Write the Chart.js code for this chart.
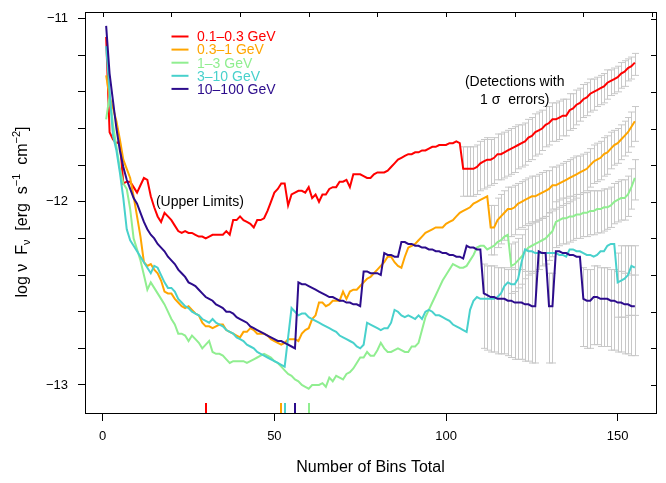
<!DOCTYPE html>
<html>
<head>
<meta charset="utf-8">
<script src="https://cdn.jsdelivr.net/npm/chart.js@4.4.0/dist/chart.umd.min.js"></script>
<style>
  html, body { margin: 0; padding: 0; background: #fff; }
  canvas { display: block; }
</style>
</head>
<body>
<canvas id="chart1" width="666" height="483"></canvas>
<script>
"use strict";

// bin number on the x axis (1 .. 155)
var bins = Array.from({ length: 155 }, function (_, i) { return i + 1; });

var bandNames = ['0.1\u20130.3 GeV', '0.3\u20131 GeV', '1\u20133 GeV', '3\u201310 GeV', '10\u2013100 GeV'];
var bandColors = ['#ff0000', '#ffa500', '#90ee90', '#48d1cc', '#2c0c8c'];

// log nu F_nu per bin, one value for every bin
var redFlux = [
  -11.10, -11.62, -11.66, -11.68, -11.67, -11.90, -11.89, -11.89, -11.92, -11.95,
  -11.91, -11.87, -11.88, -11.97, -12.03, -12.08, -12.11, -12.06, -12.08, -12.10,
  -12.13, -12.16, -12.17, -12.16, -12.17, -12.17, -12.18, -12.19, -12.19, -12.20,
  -12.19, -12.18, -12.18, -12.18, -12.18, -12.16, -12.18, -12.10, -12.10, -12.08,
  -12.10, -12.11, -12.12, -12.14, -12.10, -12.10, -12.09, -12.05, -12.00, -11.95,
  -11.93, -11.90, -11.90, -12.02, -11.96, -11.95, -11.94, -11.94, -11.95, -11.92,
  -11.98, -11.96, -12.00, -11.96, -11.96, -11.93, -11.92, -11.92, -11.89, -11.89,
  -11.88, -11.92, -11.85, -11.85, -11.85, -11.86, -11.87, -11.87, -11.85, -11.84,
  -11.84, -11.84, -11.83, -11.81, -11.79, -11.77, -11.76, -11.75, -11.74, -11.74,
  -11.73, -11.73, -11.72, -11.72, -11.71, -11.70, -11.70, -11.69, -11.69, -11.69,
  -11.68, -11.68, -11.67, -11.68, -11.82, -11.82, -11.82, -11.82, -11.81, -11.79,
  -11.78, -11.77, -11.77, -11.76, -11.74, -11.74, -11.73, -11.72, -11.71, -11.70,
  -11.69, -11.68, -11.67, -11.65, -11.64, -11.62, -11.61, -11.60, -11.58, -11.57,
  -11.55, -11.55, -11.54, -11.53, -11.53, -11.50, -11.49, -11.47, -11.46, -11.44,
  -11.43, -11.41, -11.40, -11.39, -11.38, -11.37, -11.35, -11.34, -11.33, -11.32,
  -11.30, -11.29, -11.27, -11.26, -11.24
];
var orangeFlux = [
  -11.31, -11.43, -11.49, -11.56, -11.66, -11.77, -11.82, -11.87, -11.97, -12.08,
  -12.19, -12.33, -12.35, -12.34, -12.37, -12.39, -12.43, -12.49, -12.50, -12.50,
  -12.53, -12.55, -12.57, -12.58, -12.57, -12.59, -12.61, -12.62, -12.66, -12.68,
  -12.68, -12.69, -12.68, -12.67, -12.67, -12.70, -12.71, -12.72, -12.73, -12.74,
  -12.71, -12.71, -12.69, -12.70, -12.72, -12.72, -12.72, -12.73, -12.75, -12.76,
  -12.77, -12.78, -12.77, -12.75, -12.75, -12.75, -12.76, -12.72, -12.70, -12.69,
  -12.64, -12.62, -12.55, -12.55, -12.57, -12.56, -12.54, -12.54, -12.54, -12.49,
  -12.53, -12.49, -12.48, -12.48, -12.46, -12.44, -12.42, -12.41, -12.39, -12.37,
  -12.35, -12.33, -12.30, -12.30, -12.33, -12.35, -12.36, -12.30, -12.25, -12.24,
  -12.23, -12.21, -12.19, -12.17, -12.16, -12.15, -12.14, -12.14, -12.14, -12.12,
  -12.11, -12.10, -12.08, -12.06, -12.05, -12.04, -12.03, -12.01, -12.00, -11.99,
  -11.98, -11.97, -12.14, -12.14, -12.10, -12.08, -12.06, -12.04, -12.04, -12.03,
  -12.01, -12.00, -11.99, -11.98, -11.97, -11.97, -11.96, -11.95, -11.94, -11.93,
  -11.91, -11.91, -11.90, -11.89, -11.88, -11.87, -11.86, -11.85, -11.84, -11.83,
  -11.82, -11.80, -11.78, -11.77, -11.76, -11.74, -11.73, -11.71, -11.69, -11.68,
  -11.66, -11.64, -11.62, -11.59, -11.56
];
var greenFlux = [
  -11.55, -11.42, -11.58, -11.70, -11.82, -11.90, -11.93, -12.04, -12.20, -12.26,
  -12.32, -12.40, -12.48, -12.44, -12.47, -12.50, -12.53, -12.56, -12.60, -12.64,
  -12.67, -12.72, -12.72, -12.73, -12.76, -12.73, -12.75, -12.77, -12.80, -12.78,
  -12.76, -12.82, -12.83, -12.83, -12.84, -12.86, -12.88, -12.87, -12.87, -12.87,
  -12.87, -12.88, -12.87, -12.86, -12.85, -12.84, -12.83, -12.84, -12.85, -12.87,
  -12.88, -12.90, -12.92, -12.94, -12.95, -12.97, -12.98, -13.00, -13.01, -13.02,
  -13.00, -13.00, -13.00, -12.99, -13.01, -12.96, -12.98, -12.95, -12.96, -12.97,
  -12.94, -12.93, -12.91, -12.88, -12.85, -12.85, -12.82, -12.84, -12.84, -12.81,
  -12.77, -12.80, -12.82, -12.82, -12.81, -12.80, -12.81, -12.82, -12.82, -12.79,
  -12.79, -12.77, -12.70, -12.63, -12.59, -12.55, -12.51, -12.47, -12.43, -12.40,
  -12.37, -12.34, -12.35, -12.36, -12.36, -12.35, -12.32, -12.29, -12.25, -12.24,
  -12.24, -12.26, -12.25, -12.24, -12.22, -12.21, -12.19, -12.18, -12.35, -12.34,
  -12.32, -12.30, -12.27, -12.25, -12.24, -12.23, -12.22, -12.21, -12.20, -12.18,
  -12.16, -12.11, -12.10, -12.09, -12.09, -12.08, -12.08, -12.07, -12.07, -12.06,
  -12.06, -12.05, -12.05, -12.04, -12.04, -12.03, -12.03, -12.02, -12.00, -11.99,
  -11.98, -11.98, -11.96, -11.92, -11.87
];
var cyanFlux = [
  -11.15, -11.40, -11.64, -11.72, -11.84, -11.98, -12.15, -12.21, -12.24, -12.27,
  -12.30, -12.33, -12.36, -12.39, -12.35, -12.36, -12.40, -12.44, -12.47, -12.47,
  -12.49, -12.53, -12.55, -12.57, -12.58, -12.60, -12.61, -12.62, -12.64, -12.65,
  -12.66, -12.64, -12.66, -12.67, -12.68, -12.70, -12.71, -12.72, -12.74, -12.75,
  -12.76, -12.78, -12.79, -12.80, -12.82, -12.83, -12.84, -12.85, -12.86, -12.87,
  -12.88, -12.89, -12.90, -12.74, -12.58, -12.60, -12.62, -12.61, -12.61, -12.63,
  -12.64, -12.65, -12.66, -12.67, -12.68, -12.69, -12.70, -12.71, -12.73, -12.74,
  -12.75, -12.76, -12.77, -12.79, -12.80, -12.78, -12.66, -12.67, -12.68, -12.69,
  -12.70, -12.69, -12.69, -12.66, -12.59, -12.60, -12.62, -12.63, -12.62, -12.63,
  -12.64, -12.62, -12.64, -12.60, -12.59, -12.60, -12.62, -12.62, -12.63, -12.64,
  -12.65, -12.67, -12.68, -12.69, -12.70, -12.71, -12.59, -12.54, -12.52, -12.53,
  -12.53, -12.53, -12.53, -12.53, -12.52, -12.50, -12.46, -12.44, -12.45, -12.45,
  -12.42, -12.33, -12.26, -12.27, -12.27, -12.28, -12.28, -12.28, -12.28, -12.28,
  -12.28, -12.28, -12.29, -12.29, -12.30, -12.26, -12.26, -12.27, -12.27, -12.28,
  -12.29, -12.29, -12.30, -12.29, -12.27, -12.27, -12.24, -12.23, -12.23, -12.44,
  -12.43, -12.42, -12.40, -12.35, -12.36
];
var navyFlux = [
  -11.04, -11.30, -11.45, -11.60, -11.72, -11.81, -11.88, -11.93, -11.98, -12.01,
  -12.06, -12.11, -12.15, -12.18, -12.20, -12.23, -12.25, -12.27, -12.30, -12.32,
  -12.34, -12.37, -12.39, -12.41, -12.44, -12.45, -12.46, -12.48, -12.50, -12.52,
  -12.53, -12.54, -12.56, -12.57, -12.58, -12.60, -12.60, -12.61, -12.63, -12.64,
  -12.65, -12.66, -12.68, -12.69, -12.70, -12.71, -12.72, -12.73, -12.74, -12.75,
  -12.76, -12.76, -12.77, -12.78, -12.79, -12.80, -12.44, -12.45, -12.45, -12.46,
  -12.47, -12.48, -12.49, -12.50, -12.51, -12.52, -12.52, -12.53, -12.54, -12.54,
  -12.55, -12.55, -12.56, -12.56, -12.57, -12.38, -12.38, -12.39, -12.39, -12.39,
  -12.40, -12.28, -12.29, -12.29, -12.30, -12.30, -12.22, -12.22, -12.23, -12.23,
  -12.24, -12.24, -12.25, -12.25, -12.26, -12.26, -12.27, -12.27, -12.28, -12.28,
  -12.29, -12.29, -12.30, -12.30, -12.31, -12.24, -12.25, -12.25, -12.26, -12.26,
  -12.50, -12.51, -12.52, -12.52, -12.53, -12.53, -12.53, -12.54, -12.54, -12.55,
  -12.55, -12.55, -12.56, -12.56, -12.57, -12.57, -12.27, -12.28, -12.28, -12.57,
  -12.57, -12.27, -12.27, -12.28, -12.28, -12.29, -12.29, -12.30, -12.30, -12.53,
  -12.54, -12.54, -12.52, -12.52, -12.53, -12.53, -12.53, -12.54, -12.54, -12.55,
  -12.55, -12.56, -12.56, -12.57, -12.57
];

// bins with detections and their 1 sigma errors (in dex, up / down)
var redDetBins = [105, 106, 107, 108, 109, 110, 111, 112, 113, 114, 115, 116, 117, 118, 119, 120, 121, 122, 123, 124,
  125, 126, 127, 128, 129, 130, 131, 132, 133, 134, 135, 136, 137, 138, 139, 140, 141, 142, 143, 144,
  145, 146, 147, 148, 149, 150, 151, 152, 153, 154, 155];
var redErrUp = [0.12, 0.12, 0.12, 0.12, 0.12, 0.12, 0.12, 0.12, 0.11, 0.11, 0.11, 0.11, 0.11, 0.11, 0.11, 0.11, 0.11,
  0.10, 0.10, 0.10, 0.10, 0.10, 0.10, 0.10, 0.10, 0.09, 0.09, 0.09, 0.09, 0.09, 0.09, 0.09, 0.08, 0.08,
  0.08, 0.08, 0.08, 0.08, 0.07, 0.07, 0.07, 0.07, 0.07, 0.06, 0.06, 0.06, 0.06, 0.06, 0.05, 0.05, 0.05];
var redErrLo = [0.15, 0.15, 0.15, 0.15, 0.15, 0.15, 0.15, 0.15, 0.14, 0.14, 0.14, 0.14, 0.14, 0.14, 0.14, 0.14, 0.13,
  0.13, 0.13, 0.13, 0.13, 0.13, 0.13, 0.12, 0.12, 0.12, 0.12, 0.12, 0.12, 0.11, 0.11, 0.11, 0.11, 0.11,
  0.10, 0.10, 0.10, 0.10, 0.10, 0.09, 0.09, 0.09, 0.09, 0.08, 0.08, 0.08, 0.08, 0.08, 0.07, 0.07, 0.07];

var orangeDetBins = [113, 114, 115, 116, 117, 118, 119, 120, 121, 122, 123, 124, 125, 126, 127, 128, 129, 130, 131,
  132, 133, 134, 135, 136, 137, 138, 139, 140, 141, 142, 143, 144, 145, 146, 147, 148, 149, 150, 151,
  152, 153, 154, 155];
var orangeErrUp = [0.12, 0.12, 0.12, 0.12, 0.12, 0.12, 0.12, 0.12, 0.11, 0.11, 0.11, 0.11, 0.11, 0.11, 0.11, 0.11,
  0.11, 0.10, 0.10, 0.10, 0.10, 0.10, 0.10, 0.10, 0.10, 0.10, 0.09, 0.09, 0.09, 0.09, 0.09, 0.09, 0.09,
  0.09, 0.09, 0.09, 0.08, 0.08, 0.08, 0.08, 0.08, 0.08, 0.08];
var orangeErrLo = [0.15, 0.15, 0.15, 0.15, 0.15, 0.15, 0.15, 0.15, 0.14, 0.14, 0.14, 0.14, 0.14, 0.14, 0.14, 0.14,
  0.14, 0.13, 0.13, 0.13, 0.13, 0.13, 0.13, 0.13, 0.13, 0.13, 0.12, 0.12, 0.12, 0.12, 0.12, 0.12, 0.12,
  0.12, 0.12, 0.11, 0.11, 0.11, 0.11, 0.11, 0.11, 0.11, 0.11];

var greenDetBins = [119, 120, 121, 122, 123, 124, 125, 126, 127, 128, 129, 130, 131, 132, 133, 134, 135, 136, 137,
  138, 139, 140, 141, 142, 143, 144, 145, 146, 147, 148, 149, 150, 151, 152, 153, 154, 155];
var greenErrUp = [0.12, 0.12, 0.12, 0.12, 0.12, 0.12, 0.12, 0.12, 0.12, 0.12, 0.12, 0.12, 0.11, 0.11, 0.11, 0.11,
  0.11, 0.11, 0.11, 0.11, 0.11, 0.11, 0.11, 0.11, 0.11, 0.10, 0.10, 0.10, 0.10, 0.10, 0.10, 0.10, 0.10,
  0.10, 0.10, 0.10, 0.10];
var greenErrLo = [0.15, 0.15, 0.15, 0.15, 0.15, 0.15, 0.15, 0.15, 0.15, 0.14, 0.14, 0.14, 0.14, 0.14, 0.14, 0.14,
  0.14, 0.14, 0.13, 0.13, 0.13, 0.13, 0.13, 0.13, 0.13, 0.13, 0.13, 0.13, 0.12, 0.12, 0.12, 0.12, 0.12,
  0.12, 0.12, 0.12, 0.12];

var cyanDetBins = [150, 151, 152, 153, 154, 155];
var cyanErrUp = [0.16, 0.19, 0.18, 0.16, 0.11, 0.12];
var cyanErrLo = [0.19, 0.20, 0.21, 0.22, 0.27, 0.26];

var navyDetBins = [111, 112, 113, 114, 115, 116, 117, 118, 119, 120, 121, 122, 123, 124, 125, 126,
  130, 131,
  140, 141, 142, 143, 144, 145, 146, 147, 148, 149, 150, 151, 152, 153, 154, 155];
var navyErrUp = [0.16, 0.16, 0.17, 0.17, 0.17, 0.17, 0.17, 0.17, 0.18, 0.18, 0.18, 0.18, 0.18, 0.18, 0.19, 0.19,
  0.18, 0.18,
  0.17, 0.17, 0.17, 0.17, 0.17, 0.17, 0.17, 0.17, 0.17, 0.17, 0.17, 0.17, 0.17, 0.17, 0.17, 0.17];
var navyErrLo = [0.30, 0.30, 0.30, 0.30, 0.30, 0.30, 0.30, 0.30, 0.31, 0.31, 0.31, 0.31, 0.31, 0.31, 0.31, 0.31,
  0.31, 0.31,
  0.26, 0.26, 0.26, 0.26, 0.26, 0.26, 0.26, 0.26, 0.27, 0.27, 0.27, 0.27, 0.27, 0.27, 0.27, 0.27];

// bin of the lowest upper limit per band (rug marks on the bottom axis)
var rugBins = [30, 52, 60, 53, 56];

var xTickValues = [0, 50, 100, 150];
var xTopTickValues = [0, 20, 40, 60, 80, 100, 120, 140, 160];
var yTickValues = [-13, -12.8, -12.6, -12.4, -12.2, -12, -11.8, -11.6, -11.4, -11.2, -11];

var series = [
  { flux: redFlux, det: redDetBins, up: redErrUp, lo: redErrLo },
  { flux: orangeFlux, det: orangeDetBins, up: orangeErrUp, lo: orangeErrLo },
  { flux: greenFlux, det: greenDetBins, up: greenErrUp, lo: greenErrLo },
  { flux: cyanFlux, det: cyanDetBins, up: cyanErrUp, lo: cyanErrLo },
  { flux: navyFlux, det: navyDetBins, up: navyErrUp, lo: navyErrLo }
];

var FONT = '"Liberation Sans", Arial, Helvetica, sans-serif';
Chart.defaults.font.family = FONT;
Chart.defaults.color = '#000';

function minusLabel(v) {
  return v < 0 ? '\u2212' + Math.abs(v) : String(v);
}

// gray 1 sigma bars with caps, under the lines
var errorBars = {
  id: 'errorBars',
  beforeDatasetsDraw: function (chart) {
    var ctx = chart.ctx, a = chart.chartArea, xs = chart.scales.x, ys = chart.scales.y;
    ctx.save();
    ctx.beginPath();
    ctx.rect(a.left, a.top, a.right - a.left, a.bottom - a.top);
    ctx.clip();
    ctx.strokeStyle = '#c8c8c8';
    ctx.lineWidth = 1;
    series.forEach(function (s) {
      s.det.forEach(function (b, j) {
        var v = s.flux[b - 1];
        var px = Math.round(xs.getPixelForValue(b)) + 0.5;
        var top = ys.getPixelForValue(v + s.up[j]);
        var bot = ys.getPixelForValue(v - s.lo[j]);
        ctx.beginPath();
        ctx.moveTo(px, top); ctx.lineTo(px, bot);
        ctx.moveTo(px - 3.5, top); ctx.lineTo(px + 3.5, top);
        ctx.moveTo(px - 3.5, bot); ctx.lineTo(px + 3.5, bot);
        ctx.stroke();
      });
    });
    ctx.restore();
  }
};

// box, inward ticks on top/right, rug, legend, notes and axis titles
var frame = {
  id: 'frame',
  afterDraw: function (chart) {
    var ctx = chart.ctx, a = chart.chartArea, xs = chart.scales.x, ys = chart.scales.y;
    ctx.save();
    ctx.strokeStyle = '#000';
    ctx.lineWidth = 1;
    ctx.strokeRect(Math.round(a.left) + 0.5, Math.round(a.top) + 0.5,
      Math.round(a.right - a.left), Math.round(a.bottom - a.top));

    ctx.beginPath();
    xTopTickValues.forEach(function (v) {
      var px = Math.round(xs.getPixelForValue(v)) + 0.5;
      ctx.moveTo(px, a.top); ctx.lineTo(px, a.top + 5);
    });
    yTickValues.forEach(function (v) {
      var py = Math.round(ys.getPixelForValue(v)) + 0.5;
      ctx.moveTo(a.right, py); ctx.lineTo(a.right - 5, py);
    });
    ctx.stroke();

    // rug
    ctx.lineWidth = 2;
    rugBins.forEach(function (b, i) {
      var px = Math.round(xs.getPixelForValue(b));
      ctx.strokeStyle = bandColors[i];
      ctx.beginPath();
      ctx.moveTo(px, a.bottom); ctx.lineTo(px, a.bottom - 10);
      ctx.stroke();
    });

    // legend
    ctx.font = '14px ' + FONT;
    ctx.textBaseline = 'middle';
    ctx.textAlign = 'left';
    bandNames.forEach(function (name, i) {
      var yy = a.top + 24.5 + i * 13.1;
      ctx.strokeStyle = bandColors[i];
      ctx.fillStyle = bandColors[i];
      ctx.lineWidth = 2;
      ctx.beginPath();
      ctx.moveTo(a.left + 86.5, yy); ctx.lineTo(a.left + 103.5, yy);
      ctx.stroke();
      ctx.fillText(name, a.left + 112, yy + 1);
    });

    // notes
    ctx.fillStyle = '#000';
    ctx.textAlign = 'center';
    ctx.fillText('(Upper Limits)', xs.getPixelForValue(28.3), ys.getPixelForValue(-12.0));
    ctx.fillText('(Detections with', xs.getPixelForValue(120), ys.getPixelForValue(-11.345));
    ctx.fillText('1 \u03c3  errors)', xs.getPixelForValue(120), ys.getPixelForValue(-11.445));

    // x title
    ctx.font = '16px ' + FONT;
    ctx.fillText('Number of Bins Total', (a.left + a.right) / 2, 468);

    // y title with sub- and superscripts
    var parts = [
      { t: 'log \u03bd  F', s: 16, dy: 0 },
      { t: '\u03bd', s: 11, dy: 4 },
      { t: '  [erg  s', s: 16, dy: 0 },
      { t: '\u22121', s: 11, dy: -6 },
      { t: '  cm', s: 16, dy: 0 },
      { t: '\u22122', s: 11, dy: -6 },
      { t: ']', s: 16, dy: 0 }
    ];
    var total = 0;
    parts.forEach(function (p) { ctx.font = p.s + 'px ' + FONT; p.w = ctx.measureText(p.t).width; total += p.w; });
    ctx.translate(23, 212);
    ctx.rotate(-Math.PI / 2);
    ctx.textAlign = 'left';
    var cx = -total / 2;
    parts.forEach(function (p) {
      ctx.font = p.s + 'px ' + FONT;
      ctx.fillText(p.t, cx, p.dy);
      cx += p.w;
    });
    ctx.restore();
  }
};

function dataFor(flux) {
  return bins.map(function (b, i) { return { x: b, y: flux[i] }; });
}

var ctx = document.getElementById('chart1').getContext('2d');
var myChart = new Chart(ctx, {
  type: 'line',
  data: {
    datasets: [redFlux, orangeFlux, greenFlux, cyanFlux, navyFlux].map(function (f, i) {
      return {
        label: bandNames[i],
        data: dataFor(f),
        borderColor: bandColors[i],
        backgroundColor: bandColors[i],
        borderWidth: 2,
        pointRadius: 0,
        tension: 0,
        fill: false,
        order: 5 - i
      };
    })
  },
  options: {
    responsive: false,
    animation: false,
    devicePixelRatio: 1,
    layout: { padding: { top: 12, right: 10, left: 0, bottom: 0 } },
    plugins: {
      legend: { display: false },
      tooltip: { enabled: false }
    },
    scales: {
      x: {
        type: 'linear',
        position: 'bottom',
        min: -5.16,
        max: 161.16,
        afterBuildTicks: function (s) { s.ticks = xTickValues.map(function (v) { return { value: v }; }); },
        afterFit: function (s) { s.height = 70; s.paddingLeft = 0; s.paddingRight = 0; },
        grid: { drawOnChartArea: false, drawTicks: true, tickLength: 8, color: '#000' },
        border: { display: true, color: '#000', width: 1 },
        ticks: { font: { size: 13 }, color: '#000', padding: 8, maxRotation: 0,
          callback: function (v) { return minusLabel(v); } }
      },
      y: {
        type: 'linear',
        position: 'left',
        min: -13.153,
        max: -10.964,
        afterBuildTicks: function (s) { s.ticks = yTickValues.map(function (v) { return { value: v }; }); },
        afterFit: function (s) { s.width = 85; s.paddingTop = 0; s.paddingBottom = 0; },
        grid: { drawOnChartArea: false, drawTicks: true, tickLength: 7, color: '#000' },
        border: { display: true, color: '#000', width: 1 },
        ticks: { font: { size: 13 }, color: '#000', padding: 10,
          callback: function (v) { return Math.abs(v - Math.round(v)) < 1e-6 ? minusLabel(Math.round(v)) : ''; } }
      }
    }
  },
  plugins: [errorBars, frame]
});
</script>
</body>
</html>
